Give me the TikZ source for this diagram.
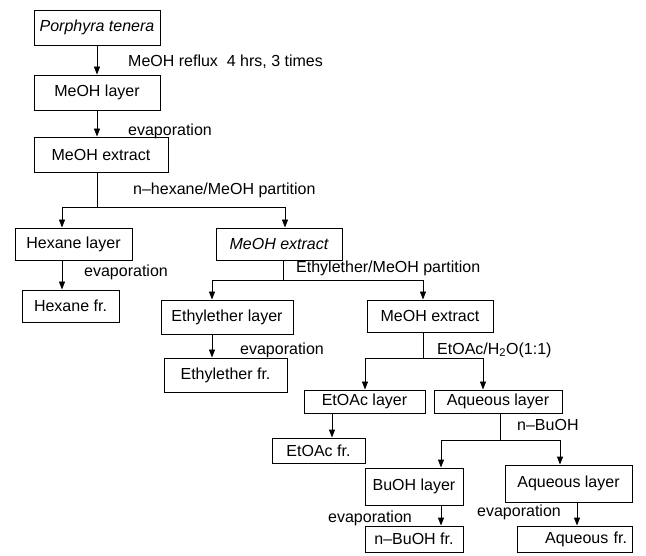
\documentclass[tikz,border=0pt]{standalone}
\usepackage{fontspec}
\setmainfont{Liberation Sans}
\usetikzlibrary{arrows.meta}
\begin{document}
\begin{tikzpicture}[x=1pt,y=-1pt,
  box/.style={draw, line width=0.9pt, inner sep=0pt, font=\fontsize{16}{19}\selectfont},
  arr/.style={line width=0.9pt, -{Triangle[length=8pt,width=6pt]}},
  ln/.style={line width=0.9pt},
  lbl/.style={anchor=west, inner sep=0pt, font=\fontsize{16}{19}\selectfont}]
\fill[white] (0,0) rectangle (646,556);
\useasboundingbox (0,0) rectangle (646,556);
% boxes
\node[box, minimum width=126, minimum height=35] (pt)  at (97,27.5)   {\itshape Porphyra tenera};
\node[box, minimum width=126, minimum height=35] (ml)  at (97,92.5)   {MeOH layer};
\node[box, minimum width=134, minimum height=35] (me1) at (101,154.5) {MeOH extract};
\node[box, minimum width=117, minimum height=32] (hl)  at (73.5,244)  {Hexane layer};
\node[box, minimum width=97,  minimum height=32] (hf)  at (70.5,306)  {Hexane fr.};
\node[box, minimum width=126, minimum height=32] (me2) at (279,244)   {\itshape MeOH extract};
\node[box, minimum width=132, minimum height=34] (el)  at (227,317)   {Ethylether layer};
\node[box, minimum width=123, minimum height=34] (ef)  at (225.5,375) {Ethylether fr.};
\node[box, minimum width=126, minimum height=32] (me3) at (430,316)   {MeOH extract};
\node[box, minimum width=121, minimum height=23] (eal) at (364.5,401.5) {EtOAc layer};
\node[box, minimum width=128, minimum height=23] (aq1) at (498,401.5) {Aqueous layer};
\node[box, minimum width=93,  minimum height=25] (eaf) at (318.5,450.5) {EtOAc fr.};
\node[box, minimum width=98,  minimum height=37] (bl)  at (414,486.5) {BuOH layer};
\node[box, minimum width=127, minimum height=37] (aq2) at (568.5,483.5) {Aqueous layer};
\node[box, minimum width=98,  minimum height=26] (bf)  at (414,539)   {n--BuOH fr.};
\node[box, minimum width=115, minimum height=26, inner xsep=5pt, text width=105, align=right] (af) at (574.5,539) {Aqueous fr.};
% x positions
\coordinate (xa) at (97,0);
\coordinate (xh) at (62,0);
\coordinate (xm2) at (285,0);
\coordinate (xm2d) at (283,0);
\coordinate (xel) at (212,0);
\coordinate (xm3) at (423,0);
\coordinate (xea) at (365,0);
\coordinate (xaq) at (483,0);
\coordinate (xeaf) at (332,0);
\coordinate (xaqd) at (500,0);
\coordinate (xbl) at (441,0);
\coordinate (xaq2) at (560,0);
\coordinate (xaf) at (577,0);
% branch points
\coordinate (b1) at (97,207);
\coordinate (b2) at (283,280);
\coordinate (b3) at (423,358);
\coordinate (b4) at (500,440);
% connectors
\draw[arr] (pt.south -| xa) -- (ml.north -| xa);
\draw[arr] (ml.south -| xa) -- (me1.north -| xa);
\draw[ln] (me1.south -| xa) -- (b1);
\draw[arr] (b1) -| (hl.north -| xh);
\draw[arr] (b1) -| (me2.north -| xm2);
\draw[arr] (hl.south -| xh) -- (hf.north -| xh);
\draw[ln] (me2.south -| xm2d) -- (b2);
\draw[arr] (b2) -| (el.north -| xel);
\draw[arr] (b2) -| (me3.north -| xm3);
\draw[arr] (el.south -| xel) -- (ef.north -| xel);
\draw[ln] (me3.south -| xm3) -- (b3);
\draw[arr] (b3) -| (eal.north -| xea);
\draw[arr] (b3) -| (aq1.north -| xaq);
\draw[arr] (eal.south -| xeaf) -- (eaf.north -| xeaf);
\draw[ln] (aq1.south -| xaqd) -- (b4);
\draw[arr] (b4) -| (bl.north -| xbl);
\draw[arr] (b4) -| (aq2.north -| xaq2);
\draw[arr] (bl.south -| xbl) -- (bf.north -| xbl);
\draw[arr] (aq2.south -| xaf) -- (af.north -| xaf);
% labels
\node[lbl] (l1) at (128,62)  {MeOH reflux\ \ 4 hrs, 3 times};
\node[lbl] (l2) at (128,131) {evaporation};
\node[lbl] (l3) at (133,190) {n--hexane/MeOH partition};
\node[lbl] (l4) at (84,272)  {evaporation};
\node[lbl] (l5) at (296,268) {Ethylether/MeOH partition};
\node[lbl] (l6) at (240,350) {evaporation};
\node[lbl] (l7) at (437,350) {EtOAc/H\textsubscript{2}O(1:1)};
\node[lbl] (l8) at (517,425) {n--BuOH};
\node[lbl] (l9) at (328,518) {evaporation};
\node[lbl] (l10) at (477,512) {evaporation};
\end{tikzpicture}
\end{document}
